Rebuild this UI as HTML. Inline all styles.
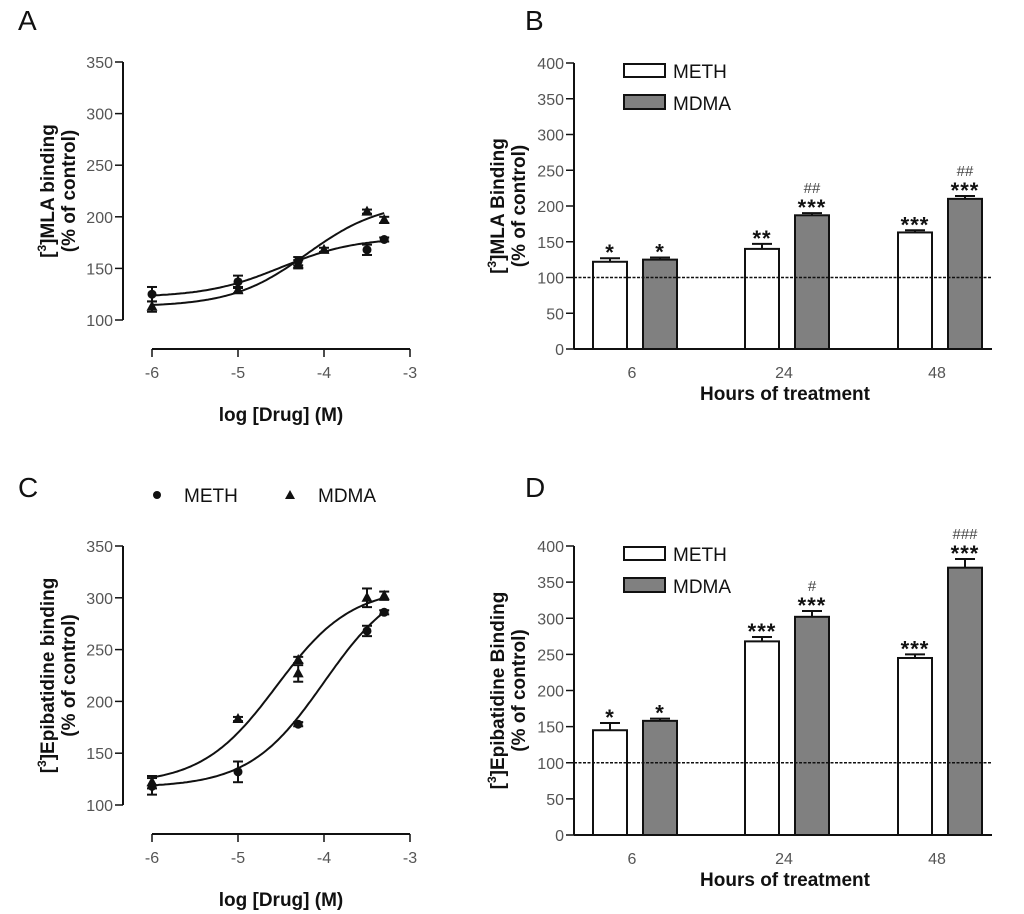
<!DOCTYPE html>
<html><head><meta charset="utf-8"><style>
body{margin:0;background:#fff}
svg{display:block;font-family:"Liberation Sans",sans-serif}
.tick{fill:#555;font-size:16px}
.ttl{font-weight:bold;font-size:19px;fill:#111}
.pl{font-size:28px;fill:#111}
</style></head><body>
<svg id="fig" width="1024" height="914" viewBox="0 0 1024 914"></svg>
<script>
// ---- Panel A data ----
const aMethX=[-6,-5,-4.3,-3.5,-3.3];
const aMethY=[125,137,157,168,178];
const aMethErr=[7,6,4,5,2];
const aMdmaX=[-6,-5,-4.3,-4.0,-3.5,-3.3];
const aMdmaY=[113,129,154,168,205,197];
const aMdmaErr=[5,3,4,2,2,3];
const aMethFit=[122,180,-4.5,1]; // bottom, top, logEC50, hill
const aMdmaFit=[113,215,-4.2,1];
// ---- Panel C data ----
const cMethX=[-6,-5,-4.3,-3.5,-3.3];
const cMethY=[118,132,178,268,286];
const cMethErr=[8,10,2,5,2];
const cMdmaX=[-6,-5,-4.3,-4.3,-3.5,-3.3];
const cMdmaY=[122,183,240,227,300,302];
const cMdmaErr=[6,2,3,8,9,4];
const cMethFit=[117,320,-4.0,1];
const cMdmaFit=[120,310,-4.55,1];
const xTicks=[-6,-5,-4,-3];
const yTicksCurve=[100,150,200,250,300,350];
// ---- Panel B data ----
const hours=["6","24","48"];
const bMeth=[122,140,163], bMethErr=[5,7,3];
const bMdma=[125,187,210], bMdmaErr=[3,3,4];
const bMethSig=["*","**","***"], bMdmaSig=["*","***","***"], bMdmaHash=["","##","##"];
// ---- Panel D data ----
const dMeth=[145,268,245], dMethErr=[10,6,5];
const dMdma=[158,302,370], dMdmaErr=[3,8,12];
const dMethSig=["*","***","***"], dMdmaSig=["*","***","***"], dMdmaHash=["","#","###"];
const yTicksBar=[0,50,100,150,200,250,300,350,400];

const svg=document.getElementById('fig');
const NS='http://www.w3.org/2000/svg';
function el(tag,attrs,parent,text){const e=document.createElementNS(NS,tag);for(const k in attrs)e.setAttribute(k,attrs[k]);if(text!==undefined)e.textContent=text;(parent||svg).appendChild(e);return e;}

function curvePanel(name,top,bot,yLab1,yLab2,sets,legend){
  const g=el('g',{});
  
  
  const ax=123,x0=152,x1=410;
  const ys=v=>bot+(v-100)*(top-bot)/250;
  const xs=v=>x0+(v+6)*(x1-x0)/3;
  const xaxisY=bot+29;
  el('line',{x1:ax,y1:top,x2:ax,y2:bot,stroke:'#111','stroke-width':2},g);
  yTicksCurve.forEach(t=>{el('line',{x1:ax-8,y1:ys(t),x2:ax,y2:ys(t),stroke:'#111','stroke-width':1.5},g);
    const tx=el('text',{x:ax-10,y:ys(t)+6,'text-anchor':'end',class:'tick'},g,String(t));});
  el('line',{x1:x0,y1:xaxisY,x2:x1,y2:xaxisY,stroke:'#111','stroke-width':2},g);
  xTicks.forEach(t=>{el('line',{x1:xs(t),y1:xaxisY,x2:xs(t),y2:xaxisY+8,stroke:'#111','stroke-width':1.5},g);
    const tx=el('text',{x:xs(t),y:xaxisY+29,'text-anchor':'middle',class:'tick'},g,String(t));});
  const xt=el('text',{x:281,y:xaxisY+72,'text-anchor':'middle',class:'ttl'},g,'log [Drug] (M)');
  
  const cy=(top+bot)/2;
  const yt=el('text',{transform:`translate(54,${cy}) rotate(-90)`,'text-anchor':'middle',class:'ttl'},g);
  
  el('tspan',{x:0,y:0},yt,'[');el('tspan',{dy:-8,'font-size':12},yt,'3');el('tspan',{dy:8},yt,yLab1);
  el('tspan',{x:0,y:21},yt,yLab2);
  sets.forEach(s=>{
    let d='';for(let i=0;i<=120;i++){const lx=-6+i*2.7/120;const [b,tp,ec,h]=s.fit;const v=b+(tp-b)/(1+Math.pow(10,(ec-lx)*h));d+=(i?'L':'M')+xs(lx).toFixed(1)+','+ys(v).toFixed(1);}
    const p=el('path',{d,fill:'none',stroke:'#111','stroke-width':2},g);
    
    s.x.forEach((xv,i)=>{const X=xs(xv),Y=ys(s.y[i]),E=s.err[i]*(bot-top)/250;
      el('line',{x1:X,y1:Y-E,x2:X,y2:Y+E,stroke:'#111','stroke-width':2},g);
      el('line',{x1:X-5,y1:Y-E,x2:X+5,y2:Y-E,stroke:'#111','stroke-width':2},g);
      el('line',{x1:X-5,y1:Y+E,x2:X+5,y2:Y+E,stroke:'#111','stroke-width':2},g);
      let m;
      if(s.shape==='dot')m=el('circle',{cx:X,cy:Y,r:4.5,fill:'#111'},g);
      else m=el('polygon',{points:`${X},${Y-6} ${X-5.5},${Y+4} ${X+5.5},${Y+4}`,fill:'#111'},g);
      });
  });
  if(legend){
    const l=el('g',{},g);
    el('circle',{cx:157,cy:495,r:4,fill:'#111'},l);
    el('text',{x:184,y:502,'font-size':19,fill:'#111'},l,'METH');
    el('polygon',{points:'290,490 285,499 295,499',fill:'#111'},l);
    el('text',{x:318,y:502,'font-size':19,fill:'#111'},l,'MDMA');
  }
}

function barPanel(name,top,bot,yLab1,yLab2,meth,methErr,mdma,mdmaErr,mSig,dSig,dHash){
  const g=el('g',{});
  
  
  const ax=574,xe=992;
  const ys=v=>bot-v*(bot-top)/400;
  const cats=[632,784,937];
  el('line',{x1:ax,y1:top,x2:ax,y2:bot,stroke:'#111','stroke-width':2},g);
  yTicksBar.forEach(t=>{el('line',{x1:ax-8,y1:ys(t),x2:ax,y2:ys(t),stroke:'#111','stroke-width':1.5},g);
    const tx=el('text',{x:ax-10,y:ys(t)+6,'text-anchor':'end',class:'tick'},g,String(t));});
  const yt=el('text',{transform:`translate(504,${(top+bot)/2}) rotate(-90)`,'text-anchor':'middle',class:'ttl'},g);
  
  el('tspan',{x:0,y:0},yt,'[');el('tspan',{dy:-8,'font-size':12},yt,'3');el('tspan',{dy:8},yt,yLab1);
  el('tspan',{x:0,y:21},yt,yLab2);
  const bw=34;
  function bar(cx,v,e,fill,nm,sig,hash){
    const X=cx-bw/2,Y=ys(v),E=e*(bot-top)/400;
    el('line',{x1:cx,y1:Y,x2:cx,y2:Y-E,stroke:'#111','stroke-width':2},g);
    el('line',{x1:cx-10,y1:Y-E,x2:cx+10,y2:Y-E,stroke:'#111','stroke-width':2},g);
    const r=el('rect',{x:X,y:Y,width:bw,height:bot-Y,fill,stroke:'#111','stroke-width':2},g);
    
    const s=el('text',{x:cx,y:Y-E+2,'text-anchor':'middle','font-size':22,'font-weight':'bold',fill:'#111','letter-spacing':'1'},g,sig);
    
    if(hash){const h=el('text',{x:cx,y:Y-E-20,'text-anchor':'middle','font-size':15,fill:'#444'},g,hash);
      }
  }
  cats.forEach((c,i)=>{
    bar(c-22,meth[i],methErr[i],'#fff','meth-bar-'+hours[i]+'h',mSig[i]);
    bar(c+28,mdma[i],mdmaErr[i],'#808080','mdma-bar-'+hours[i]+'h',dSig[i],dHash[i]);
    const tx=el('text',{x:c,y:bot+29,'text-anchor':'middle',class:'tick'},g,hours[i]);
    
  });
  el('line',{x1:ax,y1:ys(100),x2:xe,y2:ys(100),stroke:'#111','stroke-width':1.5,'stroke-dasharray':'3,1.5'},g);
  el('line',{x1:ax,y1:bot,x2:xe,y2:bot,stroke:'#111','stroke-width':2},g);
  const xt=el('text',{x:785,y:bot+51,'text-anchor':'middle',class:'ttl'},g,'Hours of treatment');
  
  const l=el('g',{},g);
  el('rect',{x:624,y:top+1,width:41,height:13,fill:'#fff',stroke:'#111','stroke-width':2},l);
  el('text',{x:673,y:top+15,'font-size':19,fill:'#111'},l,'METH');
  el('rect',{x:624,y:top+32,width:41,height:14,fill:'#808080',stroke:'#111','stroke-width':2},l);
  el('text',{x:673,y:top+47,'font-size':19,fill:'#111'},l,'MDMA');
}

[['A',18,30],['B',525,30],['C',18,497],['D',525,497]].forEach(p=>{const t=el('text',{x:p[1],y:p[2],class:'pl'},svg,p[0]);
  });

curvePanel('panel-a-chart',62,320,']MLA binding','(% of control)',[
  {name:'meth',x:aMethX,y:aMethY,err:aMethErr,fit:aMethFit,shape:'dot'},
  {name:'mdma',x:aMdmaX,y:aMdmaY,err:aMdmaErr,fit:aMdmaFit,shape:'tri'}],false);
curvePanel('panel-c-chart',546,805,']Epibatidine binding','(% of control)',[
  {name:'meth',x:cMethX,y:cMethY,err:cMethErr,fit:cMethFit,shape:'dot'},
  {name:'mdma',x:cMdmaX,y:cMdmaY,err:cMdmaErr,fit:cMdmaFit,shape:'tri'}],true);
barPanel('panel-b-chart',63,349,']MLA Binding','(% of control)',bMeth,bMethErr,bMdma,bMdmaErr,bMethSig,bMdmaSig,bMdmaHash);
barPanel('panel-d-chart',546,835,']Epibatidine Binding','(% of control)',dMeth,dMethErr,dMdma,dMdmaErr,dMethSig,dMdmaSig,dMdmaHash);
</script>
</body></html>
